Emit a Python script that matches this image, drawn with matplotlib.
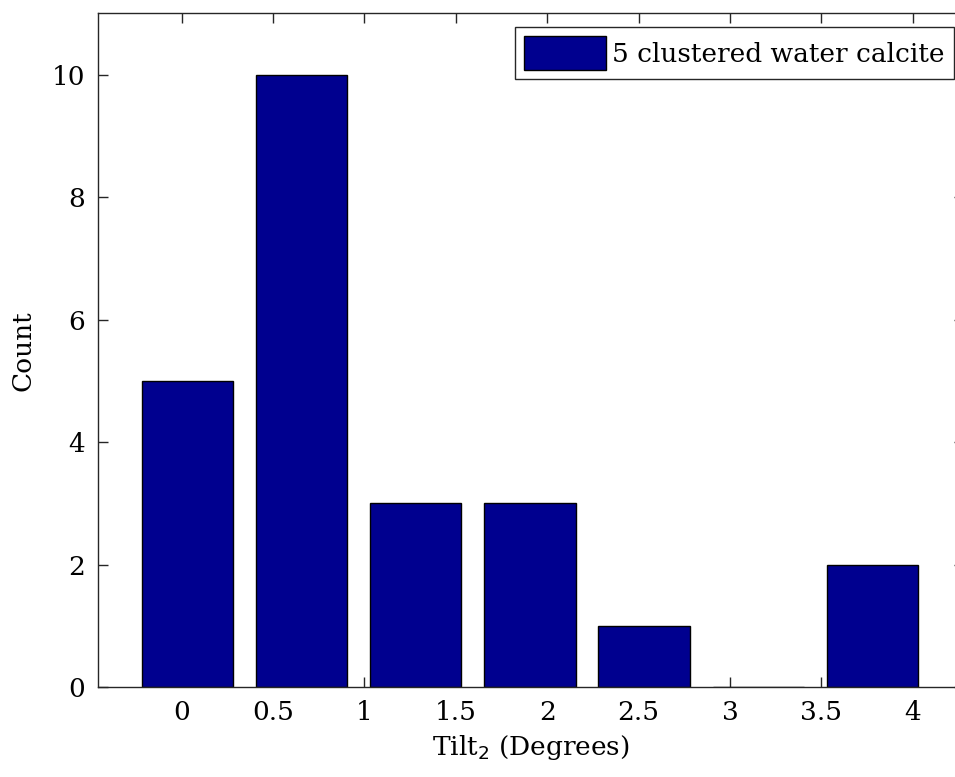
# histogram of tilt angles, MATLAB-style bar look
import matplotlib.pyplot as plt

bin_centers = [0.03, 0.655, 1.28, 1.905, 2.53, 3.155, 3.78]
counts = [5, 10, 3, 3, 1, 0, 2]
xticks = [0, 0.5, 1, 1.5, 2, 2.5, 3, 3.5, 4]
yticks = [0, 2, 4, 6, 8, 10]

plt.rcParams['font.family'] = 'DejaVu Serif'
plt.rcParams['font.size'] = 19

fig = plt.figure(figsize=(9.55, 7.77), dpi=100)
ax = fig.add_axes([0.1023, 0.1158, 0.907, 0.867])

ax.bar(bin_centers, counts, width=0.5, color='#00008f', edgecolor='black',
       linewidth=1, label='5 clustered water calcite')

ax.set_xlim(-0.46, 4.28)
ax.set_ylim(0, 11)
ax.set_xticks(xticks)
ax.set_xticklabels(['0', '0.5', '1', '1.5', '2', '2.5', '3', '3.5', '4'])
ax.set_yticks(yticks)
ax.set_axisbelow(True)
ax.tick_params(direction='in', length=7, width=1, top=True, right=True, pad=9,
               colors='#262626', labelcolor='black')
for s in ax.spines.values():
    s.set_linewidth(1)
    s.set_color('#262626')

ax.set_xlabel('Tilt$_2$ (Degrees)', labelpad=6)
ax.set_ylabel('Count', labelpad=12)

leg = ax.legend(loc='upper right', bbox_to_anchor=(954 / 955, 1 - 26.7 / 777),
                bbox_transform=fig.transFigure, borderaxespad=0, fancybox=False,
                framealpha=1, edgecolor='#262626', handlelength=3.1, handleheight=1.6,
                handletextpad=0.25, borderpad=0.35)
leg.get_frame().set_linewidth(1)

plt.savefig('out.png', dpi=100)
